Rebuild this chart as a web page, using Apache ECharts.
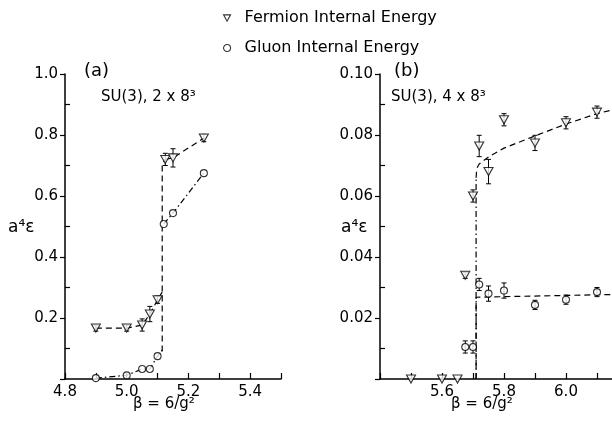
<!DOCTYPE html>
<html><head><meta charset="utf-8">
<script src="https://cdn.jsdelivr.net/npm/echarts@6/dist/echarts.min.js"></script>
<style>html,body{margin:0;padding:0;background:#fff}#c{width:612px;height:421px}</style>
</head><body><div id="c"></div>
<script>
// ---- data ----
const fermA_x = [4.9, 5.0, 5.05, 5.075, 5.1, 5.125, 5.15, 5.25];
const fermA_y = [0.167, 0.167, 0.177, 0.213, 0.26, 0.72, 0.725, 0.79];
const fermA_err = [0.01, 0.01, 0.02, 0.025, 0.012, 0.02, 0.03, 0.012];
const gluA_x = [4.9, 5.0, 5.05, 5.075, 5.1, 5.12, 5.15, 5.25];
const gluA_y = [0.003, 0.012, 0.033, 0.033, 0.075, 0.508, 0.544, 0.675];

const fermB_x = [5.5, 5.6, 5.65, 5.675, 5.7, 5.72, 5.75, 5.8, 5.9, 6.0, 6.1];
const fermB_y = [0, 0, 0, 0.034, 0.060, 0.0764, 0.068, 0.085, 0.0774, 0.084, 0.0875];
const fermB_err = [0, 0, 0, 0.001, 0.002, 0.0035, 0.004, 0.002, 0.0025, 0.002, 0.002];
const gluB_x = [5.675, 5.7, 5.72, 5.75, 5.8, 5.9, 6.0, 6.1];
const gluB_y = [0.0105, 0.0105, 0.031, 0.028, 0.029, 0.0243, 0.026, 0.0285];
const gluB_err = [0.002, 0.002, 0.002, 0.0025, 0.0025, 0.0015, 0.0015, 0.0015];

// guide curves drawn in the figure
const curveA_fermLow = [[4.9,0.167],[5.0,0.167],[5.05,0.177],[5.075,0.213],[5.1,0.26],[5.115,0.285]];
const curveA_jump = [[5.115,0.09],[5.115,0.705],[5.125,0.72]];
const curveA_fermHigh = [[5.125,0.72],[5.15,0.725],[5.25,0.79]];
const curveA_gluLow = [[4.9,0.003],[5.0,0.012],[5.05,0.033],[5.075,0.033],[5.1,0.075],[5.115,0.095]];
const curveA_gluHigh = [[5.12,0.508],[5.15,0.544],[5.25,0.675]];

const curveB_gluJump = [[5.71,0],[5.71,0.0268],[5.8,0.027],[6.0,0.0274],[6.2,0.0278]];
const curveB_fermJump = [[5.71,0],[5.71,0.066]];
const curveB_ferm = [[5.71,0.066],[5.712,0.069],[5.72,0.0705],[5.75,0.0728],[5.8,0.0757],[5.9,0.0797],[6.0,0.0836],[6.1,0.087],[6.2,0.0895]];

const yMinorA = [0.1, 0.3, 0.5, 0.7, 0.9];
const yMinorB = [0.01, 0.03, 0.05, 0.07, 0.09];

const FONT = 'DejaVu Sans';
const TRI = 'path://M0,0L10,0L5,9Z';
const zip = (xs, ys, es) => xs.map((x, i) => es ? [x, ys[i], es[i]] : [x, ys[i]]);

const chart = echarts.init(document.getElementById('c'));

function xAxisDef(grid, min, max, showFn) {
  return {
    type: 'value', gridIndex: grid, min: min, max: max, interval: 0.1, position: 'bottom',
    axisLine: { show: true, onZero: false, lineStyle: { color: '#000', width: 1.5 } },
    axisTick: { show: true, inside: true, length: 6, lineStyle: { color: '#000', width: 1.2 } },
    axisLabel: { color: '#000', fontFamily: FONT, fontSize: 15, margin: 6,
      formatter: v => showFn(Math.round(v * 10)) ? v.toFixed(1) : '' },
    splitLine: { show: false }
  };
}
function yAxisMain(grid, max, interval, dec) {
  return {
    type: 'value', gridIndex: grid, min: 0, max: max, interval: interval, position: 'left',
    axisLine: { show: true, onZero: false, lineStyle: { color: '#000', width: 1.5 } },
    axisTick: { show: true, inside: false, length: 5, lineStyle: { color: '#000', width: 1.2 } },
    axisLabel: { color: '#000', fontFamily: FONT, fontSize: 15, margin: 7,
      formatter: v => v === 0 ? '' : v.toFixed(dec) },
    splitLine: { show: false }
  };
}
// minor ticks pointing into the plot: a right-side axis moved onto the left edge
function yAxisMinor(grid, max, vals, width) {
  return {
    type: 'value', gridIndex: grid, min: 0, max: max, position: 'right', offset: -width,
    axisLine: { show: false, onZero: false },
    axisTick: { show: true, inside: false, length: 5, customValues: vals, lineStyle: { color: '#000', width: 1.2 } },
    axisLabel: { show: false },
    splitLine: { show: false }
  };
}
function lineS(data, xi, yi, dash) {
  return { type: 'line', xAxisIndex: xi, yAxisIndex: yi, data: data, showSymbol: false, symbol: 'none',
    silent: true, z: 2, lineStyle: { color: '#000', width: 1.2, type: dash } };
}
function errS(data, xi, yi) {
  return { type: 'custom', xAxisIndex: xi, yAxisIndex: yi, data: data, z: 3, silent: true,
    renderItem: function (params, api) {
      const x = api.value(0), y = api.value(1), e = api.value(2);
      if (!e) return null;
      const hi = api.coord([x, y + e]), lo = api.coord([x, y - e]);
      const st = { stroke: '#000', lineWidth: 1 };
      return { type: 'group', children: [
        { type: 'line', shape: { x1: hi[0], y1: hi[1], x2: lo[0], y2: lo[1] }, style: st },
        { type: 'line', shape: { x1: hi[0] - 2.5, y1: hi[1], x2: hi[0] + 2.5, y2: hi[1] }, style: st },
        { type: 'line', shape: { x1: lo[0] - 2.5, y1: lo[1], x2: lo[0] + 2.5, y2: lo[1] }, style: st }
      ] };
    } };
}
function ptS(name, data, xi, yi, sym, size) {
  return { type: 'scatter', name: name, xAxisIndex: xi, yAxisIndex: yi, data: data, symbol: sym, symbolSize: size,
    z: 5, itemStyle: { color: '#fff', borderColor: '#000', borderWidth: 1.1 } };
}

const DASH = [6, 4];
const DASHDOT = [6, 3, 1.5, 3];

chart.setOption({
  backgroundColor: '#fff',
  animation: false,
  legend: {
    orient: 'vertical', left: 218, top: 5, itemWidth: 7, itemHeight: 7, itemGap: 14,
    textStyle: { color: '#000', fontFamily: FONT, fontSize: 16, padding: [0, 0, 0, 9] },
    itemStyle: { color: '#fff', borderColor: '#000', borderWidth: 1.1 },
    data: [{ name: 'Fermion Internal Energy', icon: TRI }, { name: 'Gluon Internal Energy', icon: 'circle' }]
  },
  grid: [
    { left: 65, top: 74, width: 216, height: 305, outerBoundsMode: 'none', containLabel: false },
    { left: 380, top: 74, width: 248, height: 305, outerBoundsMode: 'none', containLabel: false }
  ],
  xAxis: [
    xAxisDef(0, 4.8, 5.5, t => t % 2 === 0 && t <= 54),
    xAxisDef(1, 5.4, 6.2, t => t % 2 === 0 && t >= 56 && t <= 60)
  ],
  yAxis: [
    yAxisMain(0, 1.0, 0.2, 1),
    yAxisMinor(0, 1.0, yMinorA, 216),
    yAxisMain(1, 0.10, 0.02, 2),
    yAxisMinor(1, 0.10, yMinorB, 248)
  ],
  graphic: [
    { type: 'text', left: 84, top: 62, style: { text: '(a)', font: '18px "DejaVu Sans"', fill: '#000' } },
    { type: 'text', left: 101, top: 90, style: { text: 'SU(3), 2 x 8³', font: '15px "DejaVu Sans"', fill: '#000' } },
    { type: 'text', left: 394, top: 62, style: { text: '(b)', font: '18px "DejaVu Sans"', fill: '#000' } },
    { type: 'text', left: 391, top: 90, style: { text: 'SU(3), 4 x 8³', font: '15px "DejaVu Sans"', fill: '#000' } },
    { type: 'text', left: 8, top: 219, style: { text: 'a⁴ε', font: '17px "DejaVu Sans"', fill: '#000' } },
    { type: 'text', left: 341, top: 219, style: { text: 'a⁴ε', font: '17px "DejaVu Sans"', fill: '#000' } },
    { type: 'text', left: 133, top: 397, style: { text: 'β = 6/g²', font: '15px "DejaVu Sans"', fill: '#000' } },
    { type: 'text', left: 451, top: 397, style: { text: 'β = 6/g²', font: '15px "DejaVu Sans"', fill: '#000' } }
  ],
  series: [
    lineS(curveA_fermLow, 0, 0, DASH),
    lineS(curveA_jump, 0, 0, DASH),
    lineS(curveA_fermHigh, 0, 0, DASH),
    lineS(curveA_gluLow, 0, 0, DASHDOT),
    lineS(curveA_gluHigh, 0, 0, DASHDOT),
    lineS(curveB_gluJump, 1, 2, DASH),
    lineS(curveB_fermJump, 1, 2, DASHDOT),
    lineS(curveB_ferm, 1, 2, DASH),
    errS(zip(fermA_x, fermA_y, fermA_err), 0, 0),
    errS(zip(fermB_x, fermB_y, fermB_err), 1, 2),
    errS(zip(gluB_x, gluB_y, gluB_err), 1, 2),
    ptS('Fermion Internal Energy', zip(fermA_x, fermA_y), 0, 0, TRI, [9, 8]),
    ptS('Gluon Internal Energy', zip(gluA_x, gluA_y), 0, 0, 'circle', 7),
    ptS('Fermion Internal Energy', zip(fermB_x, fermB_y), 1, 2, TRI, [9, 8]),
    ptS('Gluon Internal Energy', zip(gluB_x, gluB_y), 1, 2, 'circle', 7)
  ]
});
</script></body></html>
